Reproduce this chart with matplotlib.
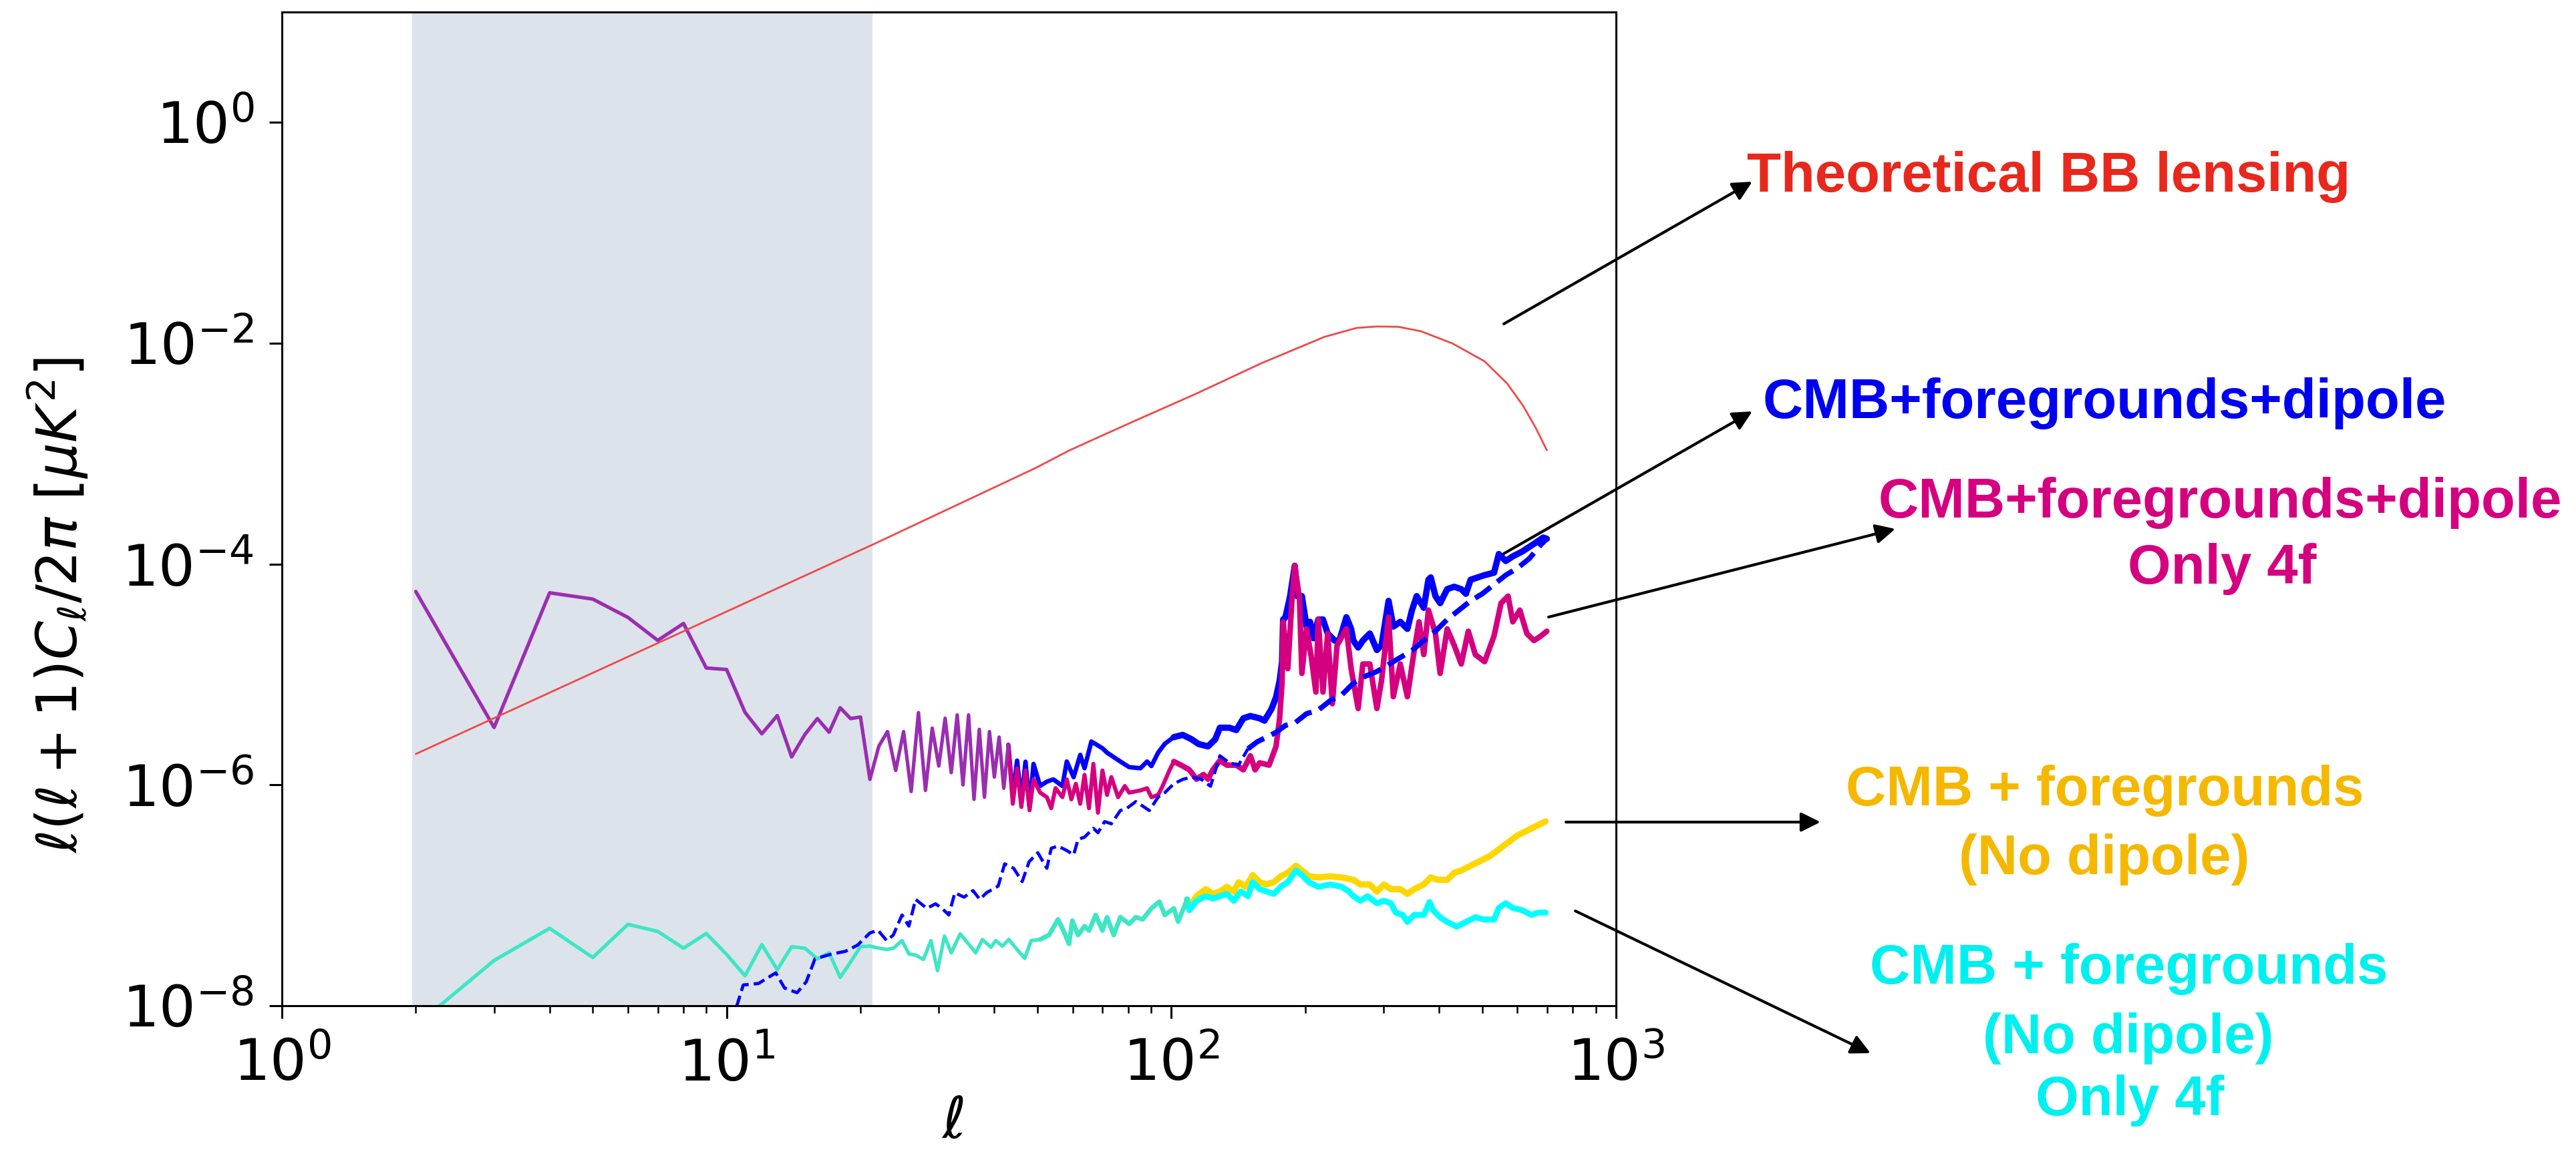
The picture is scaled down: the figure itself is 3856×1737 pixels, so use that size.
import numpy as np
import matplotlib
matplotlib.use("Agg")
import matplotlib.pyplot as plt

# values: (multipole l, log10 of l(l+1)C_l/2pi in uK^2)

theory = [(2, -5.72), (21.4, -3.82), (49.5, -3.13), (59, -2.97), (82, -2.71),
          (114, -2.455), (159, -2.183), (221, -1.942), (261, -1.861), (290, -1.848),
          (324, -1.851), (364, -1.891), (429, -2.002), (506, -2.163), (569, -2.364),
          (618, -2.566), (660, -2.767), (699, -2.969)]

# low multipoles, identical for both dipole maps (drawn purple where they overlap)
dipole_low = [(2, -4.248), (3, -5.48), (4, -4.26), (5, -4.317), (6, -4.483), (7, -4.691),
              (8, -4.538), (9, -4.941), (10, -4.955), (11, -5.343), (12, -5.537),
              (13, -5.372), (14, -5.746), (15, -5.543), (16, -5.399), (17, -5.523),
              (18, -5.301), (19, -5.399), (20, -5.385), (21, -5.95), (22, -5.648),
              (23, -5.517), (24, -5.869), (25, -5.517), (26, -6.06), (27, -5.345),
              (28, -6.05), (29, -5.486), (30, -5.829), (31, -5.396), (32, -5.889),
              (33, -5.366), (34, -6.0), (35, -5.366), (36, -6.131), (37, -5.497),
              (38, -6.111), (39, -5.517), (40, -5.929), (41, -5.567), (42, -6.03),
              (43, -5.637)]

dipole_high = [(43, -5.637), (44, -6.10), (45, -5.78), (46, -6.15), (47, -5.79), (48, -6.20),
               (49, -5.81), (50.7, -6.010), (52.5, -5.970), (54.3, -5.950), (56.9, -6.010),
               (58.2, -5.788), (60.3, -5.930), (62.4, -5.728), (63.8, -5.849), (66.1, -5.607),
               (70.0, -5.668), (71.7, -5.708), (74.2, -5.748), (76.8, -5.788), (80.4, -5.839),
               (85.2, -5.849), (88.2, -5.788), (90.2, -5.829), (93.4, -5.708), (96.7, -5.627),
               (101.3, -5.567), (106.1, -5.547), (111.1, -5.587), (115.2, -5.630),
               (120.9, -5.651), (125.5, -5.588), (128.6, -5.482), (135, -5.482), (140, -5.503),
               (145.2, -5.397), (150.6, -5.376), (158, -5.397), (162, -5.418), (168, -5.312),
               (172, -5.206), (175.2, -5.058), (177.4, -4.888), (178.4, -4.502),
               (180.6, -4.481), (185, -4.290), (189.5, -4.015), (191.9, -4.290),
               (196.6, -4.290), (201.4, -4.566), (205.1, -4.523), (208.9, -4.672),
               (214, -4.502), (219.3, -4.502), (224.7, -4.629), (233, -4.693), (238.7, -4.693),
               (247.6, -4.481), (253.7, -4.587), (256.7, -4.693), (263.1, -4.756),
               (269.6, -4.693), (279.5, -4.629), (289.9, -4.778), (297, -4.735), (308, -4.333),
               (315.6, -4.566), (327.3, -4.523), (339.5, -4.587), (347.7, -4.417),
               (356.3, -4.290), (369.6, -4.396), (378.6, -4.142), (383.2, -4.121),
               (392.6, -4.290), (402.3, -4.354), (417.2, -4.227), (432.6, -4.205),
               (448.7, -4.227), (459.7, -4.269), (471, -4.142), (488.5, -4.121),
               (506.4, -4.100), (531.8, -4.078), (545, -3.909), (565, -3.972), (586, -3.930),
               (615, -3.887), (638, -3.845), (661.6, -3.803), (686, -3.760), (698.8, -3.771)]

dipole4f_high = [(43, -5.637), (44, -6.171), (45, -5.85), (46, -6.20), (47, -5.87), (48, -6.23),
                 (49, -5.95), (50.7, -6.070), (52.5, -6.111), (53.7, -6.211), (54.9, -6.030),
                 (56.9, -6.111), (58.2, -5.950), (59.6, -6.131), (61.0, -5.990), (62.4, -6.171),
                 (63.8, -5.909), (65.3, -6.211), (66.8, -5.809), (68.4, -6.252), (70.0, -5.869),
                 (71.7, -6.091), (73.3, -5.929), (75.9, -6.111), (78.6, -6.010), (80.4, -6.070),
                 (85.2, -6.050), (88.2, -6.030), (90.2, -6.111), (93.4, -6.091), (95.6, -6.010),
                 (99.0, -5.869), (101.3, -5.788), (106.1, -5.829), (109.8, -5.863),
                 (113.9, -5.948), (118.1, -5.906), (120.9, -5.948), (124, -5.863),
                 (128.6, -5.779), (133.4, -5.821), (140, -5.821), (145.2, -5.863),
                 (150.6, -5.736), (154.3, -5.863), (158, -5.800), (165.9, -5.821),
                 (172, -5.651), (175.2, -5.397), (177.4, -5.079), (178.4, -4.523),
                 (182.8, -4.947), (187, -4.290), (189.5, -4.015), (194.2, -4.311),
                 (196.6, -4.990), (201.4, -4.587), (206.4, -4.841), (211.4, -5.159),
                 (214, -4.502), (219.3, -5.159), (224.7, -4.629), (230.2, -5.265),
                 (235.9, -4.735), (247.6, -4.587), (253.7, -4.947), (263.1, -5.308),
                 (269.6, -4.905), (279.5, -4.905), (289.9, -5.308), (297, -5.053), (308, -4.481),
                 (315.6, -5.201), (327.3, -4.905), (339.5, -5.201), (351.9, -4.778),
                 (360.6, -4.523), (369.6, -4.820), (378.6, -4.417), (392.6, -4.629),
                 (402.3, -4.990), (417.2, -4.587), (432.6, -4.735), (448.7, -4.905),
                 (465.4, -4.608), (482.7, -4.820), (506.4, -4.884), (531.8, -4.651),
                 (551.5, -4.354), (571.9, -4.290), (586, -4.523), (607.7, -4.417),
                 (630.3, -4.629), (653.6, -4.693), (677.9, -4.651), (698.8, -4.608)]

# no-dipole maps, identical below l ~ 110 (drawn turquoise where they overlap)
nodip_low = [(2, -8.18), (3, -7.59), (4, -7.299), (5, -7.563), (6, -7.263), (7, -7.327),
             (8, -7.479), (9, -7.346), (10, -7.535), (11, -7.729), (12, -7.446), (13, -7.674),
             (14, -7.465), (15, -7.479), (16, -7.576), (17, -7.521), (18, -7.743),
             (19, -7.604), (20, -7.465), (21, -7.460), (22.1, -7.480), (22.9, -7.490),
             (23.7, -7.480), (24.8, -7.410), (25.7, -7.531), (26.6, -7.541), (27.7, -7.581),
             (28.8, -7.410), (29.8, -7.682), (30.9, -7.369), (32.0, -7.521), (33.5, -7.349),
             (35.0, -7.440), (36.3, -7.521), (37.6, -7.400), (39.3, -7.470), (40.3, -7.410),
             (41.7, -7.460), (43.1, -7.400), (45.2, -7.500), (46.8, -7.571), (48.4, -7.410),
             (50.7, -7.400), (53.1, -7.360), (55.6, -7.218), (56.9, -7.299), (58.9, -7.440),
             (59.9, -7.229), (61.7, -7.360), (63.8, -7.279), (65.3, -7.319), (67.6, -7.178),
             (70.0, -7.319), (71.7, -7.198), (74.2, -7.360), (76.8, -7.198), (80.4, -7.259),
             (83.2, -7.198), (86.2, -7.218), (90.2, -7.118), (94.0, -7.057), (96.7, -7.178),
             (101.3, -7.118), (103.6, -7.239), (108.5, -7.037)]

nodip_high = [(108.5, -7.037), (109.8, -7.114), (113.9, -7.008), (119.5, -6.944), (124, -6.987),
              (128.6, -6.966), (133.3, -6.923), (138.2, -6.966), (141.7, -6.881),
              (147, -6.923), (152.4, -6.817), (158, -6.881), (163.9, -6.902), (170, -6.881),
              (176.2, -6.828), (182.8, -6.796), (190.7, -6.732), (196.6, -6.775),
              (203.9, -6.828), (214, -6.838), (227.5, -6.828), (241.6, -6.838), (256.7, -6.860),
              (266.3, -6.902), (279.5, -6.902), (289.9, -6.966), (300.6, -6.902),
              (311.8, -6.944), (327.3, -6.944), (339.5, -6.987), (351.9, -6.944),
              (369.6, -6.902), (383.2, -6.838), (397.5, -6.860), (417.2, -6.860),
              (432.6, -6.796), (448.7, -6.775), (471, -6.732), (494.4, -6.690), (519, -6.648),
              (545, -6.584), (571.9, -6.521), (600.5, -6.457), (630.3, -6.415),
              (661.6, -6.372), (694.5, -6.330)]

nodip4f_high = [(108.5, -7.037), (109.8, -7.135), (113.9, -7.050), (119.5, -7.008), (124, -7.029),
                (128.6, -7.008), (133.3, -6.987), (138.2, -7.050), (143.4, -6.966),
                (148.7, -7.008), (152.4, -6.881), (158, -6.944), (163.9, -6.966), (170, -6.987),
                (176.2, -6.923), (182.8, -6.881), (190.7, -6.775), (196.6, -6.817),
                (203.9, -6.881), (214, -6.923), (227.5, -6.902), (241.6, -6.923), (251, -6.966),
                (256.7, -7.008), (266.3, -7.050), (276.2, -7.008), (289.9, -7.072),
                (300.6, -7.050), (311.8, -7.072), (319.5, -7.156), (331.3, -7.177),
                (339.5, -7.241), (351.9, -7.177), (369.6, -7.177), (380.9, -7.061),
                (387.9, -7.135), (402.3, -7.199), (417.2, -7.241), (438.2, -7.284),
                (459.7, -7.241), (482.7, -7.199), (506.4, -7.220), (531.8, -7.220),
                (545, -7.114), (565, -7.072), (586, -7.114), (615, -7.135), (645.7, -7.177),
                (669.8, -7.156), (694.5, -7.156)]

# dashed blue curve
dashed = [(10, -8.3), (10.9, -7.812), (11.8, -7.798), (12.9, -7.702), (13.5, -7.840),
          (14.4, -7.882), (15.1, -7.784), (15.8, -7.576), (17.1, -7.535), (18.5, -7.507),
          (19.7, -7.451), (21.0, -7.341), (21.9, -7.316), (22.9, -7.410), (23.7, -7.360),
          (24.8, -7.178), (25.7, -7.279), (26.6, -7.037), (28.2, -7.118), (29.5, -7.077),
          (30.5, -7.118), (31.6, -7.178), (32.6, -6.977), (34.2, -7.017), (35.8, -6.957),
          (37.1, -7.037), (38.4, -6.977), (40.8, -6.916), (42.2, -6.715), (44.2, -6.755),
          (46.2, -6.876), (47.9, -6.695), (50.1, -6.614), (52.5, -6.755), (53.7, -6.574),
          (55.6, -6.554), (58.2, -6.594), (60.3, -6.634), (61.7, -6.493), (63.8, -6.473),
          (66.8, -6.393), (68.4, -6.433), (70.8, -6.332), (73.3, -6.352), (76.8, -6.232),
          (79.5, -6.211), (83.2, -6.151), (86.2, -6.191), (89.2, -6.232), (93.4, -6.111),
          (96.7, -6.070), (101.3, -5.990), (106.1, -5.950), (111.1, -5.929), (116.7, -5.948),
          (122.5, -6.012), (128.6, -5.736), (135, -5.800), (141.6, -5.821), (148.7, -5.673),
          (156.1, -5.609), (163.9, -5.567), (172, -5.524), (180.6, -5.461), (189.5, -5.440),
          (201.4, -5.355), (214, -5.323), (227.5, -5.238), (241.6, -5.185), (256.7, -5.079),
          (272.9, -5.016), (289.9, -4.973), (308, -4.910), (327.3, -4.846), (347.7, -4.783),
          (369.6, -4.693), (392.6, -4.608), (417.2, -4.502), (443.4, -4.417), (471, -4.333),
          (500.4, -4.269), (531.8, -4.184), (565, -4.100), (600.5, -4.036), (638, -3.951),
          (677.9, -3.824), (698.8, -3.771)]

shade_lo, shade_hi = 1.96, 21.3

W, H = 3856, 1737


def fpos(x, y):
    # pixel position in the picture -> figure fraction
    return x / W, 1 - y / H


def draw(pairs, color, breaks, widths, **kw):
    # the noisy spectra get visibly thicker at high l, so draw in pieces
    ell = np.array([p[0] for p in pairs], dtype=float)
    val = 10.0 ** np.array([p[1] for p in pairs])
    edges = [ell[0]] + list(breaks) + [ell[-1]]
    for i, lw in enumerate(widths):
        m = (ell >= edges[i]) & (ell <= edges[i + 1])
        if m.sum() > 1:
            ax.plot(ell[m], val[m], color=color, lw=lw, solid_joinstyle="round",
                    solid_capstyle="round", **kw)


fig = plt.figure(figsize=(W / 200, H / 200), dpi=200)
ax = fig.add_axes([422 / W, 1 - 1506 / H, (2419 - 422) / W, (1506 - 18) / H])

ax.axvspan(shade_lo, shade_hi, color="#dce3eb", lw=0, zorder=0)

draw(dipole_high, "blue", [101.3], [2.4, 3.4])
draw(dipole4f_high, "#d5007f", [101.3], [2.2, 3.0])
draw(dipole_low, "#9a2eb0", [], [1.9])

draw(nodip_high, "gold", [], [3.4])
draw(nodip4f_high, "cyan", [], [3.2])
draw(nodip_low, "#3ee6c4", [50.7], [1.9, 2.5])

draw(dashed, "blue", [148.7], [1.7, 2.8], ls="--")

draw(theory, "#f04848", [], [1.0])

ax.set_xscale("log")
ax.set_yscale("log")
ax.set_xlim(1, 1000)
ax.set_ylim(1e-8, 1e1)
ax.set_yticks([1e-8, 1e-6, 1e-4, 1e-2, 1e0])
ax.yaxis.set_minor_locator(matplotlib.ticker.NullLocator())

for s in ax.spines.values():
    s.set_linewidth(1.1)
ax.tick_params(which="major", length=7, width=1.1, labelsize=31)
ax.tick_params(which="minor", length=4, width=0.9)
ax.tick_params(axis="x", which="major", pad=10)
ax.tick_params(axis="y", which="major", pad=8)

fig.text(*fpos(87, 907), r"$\ell(\ell+1)C_\ell/2\pi$ [$\mu K^2$]", rotation=90,
         ha="center", va="center", fontsize=30)
fig.text(*fpos(1426, 1680), r"$\ell$", ha="center", va="center", fontsize=31)

# annotations
font = dict(family=["Liberation Sans Narrow", "Liberation Sans", "DejaVu Sans"],
            weight="bold", fontsize=30, ha="center", va="center")

labels = [
    ("Theoretical BB lensing", "#e8281c", [(3067, 265)]),
    ("CMB+foregrounds+dipole", "#0000f0", [(3150, 604)]),
    ("CMB+foregrounds+dipole\nOnly 4f", "#d4007f", [(3323, 753), (3326, 852)]),
    ("CMB + foregrounds\n(No dipole)", "#f5b800", [(3151, 1184), (3150, 1287)]),
    ("CMB + foregrounds\n(No dipole)\nOnly 4f", "#00f0f0", [(3187, 1451), (3186, 1555), (3188, 1648)]),
]
for text, col, spots in labels:
    for line, (x, y) in zip(text.split("\n"), spots):
        fig.text(*fpos(x, y), line, color=col, **font)

arrows = [((2251, 485), (2623, 272)),
          ((2251, 829), (2623, 616)),
          ((2318, 924), (2837, 792)),
          ((2344, 1231), (2725, 1231)),
          ((2358, 1364), (2800, 1577))]
for tail, head in arrows:
    ax.annotate("", xy=fpos(*head), xytext=fpos(*tail), xycoords="figure fraction",
                textcoords="figure fraction", annotation_clip=False,
                arrowprops=dict(arrowstyle="-|>", color="black", lw=1.5,
                                mutation_scale=22, shrinkA=0, shrinkB=0))

fig.savefig("out.png", dpi=200)
